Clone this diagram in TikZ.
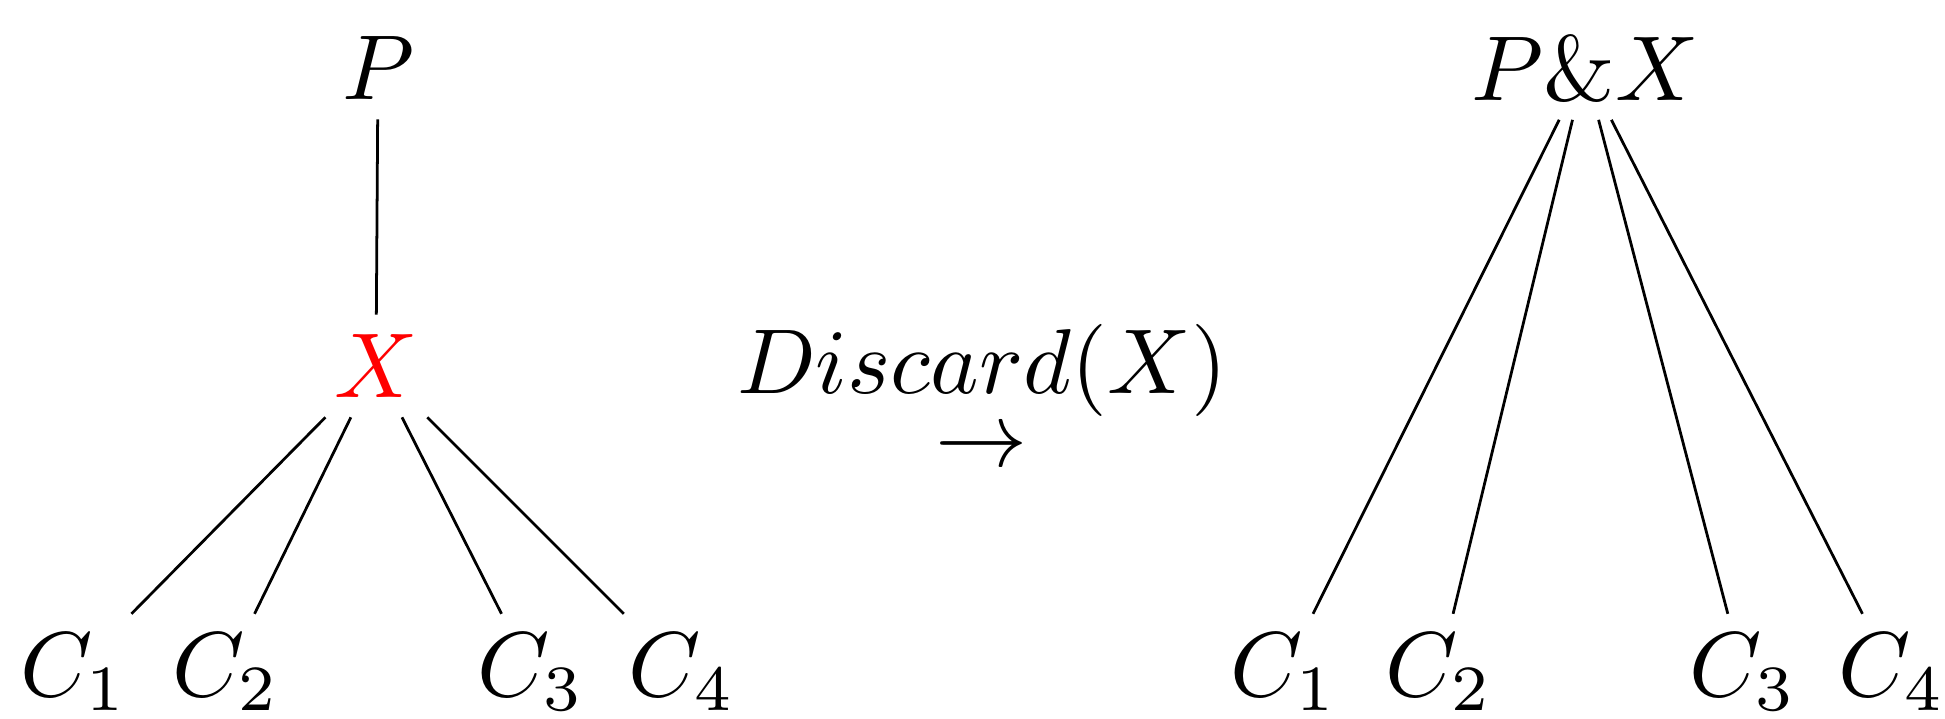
\documentclass[tikz,border=0pt]{standalone}
\usepackage{amsmath,amssymb}
\usepackage{xcolor}
\usetikzlibrary{positioning}

\begin{document}
\begin{tikzpicture}[x=0.003813cm,y=-0.003813cm,inner sep=2pt,line width=0.3pt]
  \useasboundingbox (0,0) rectangle (1945,718);
  % left tree: P over X over four children
  \node (P) at (378,68) {$P$};
  \node[red] (X) at (376,366) {$X$};
  \foreach \i/\xc in {1/74,2/226,3/531,4/682}
    \node (lc\i) at (\xc,672) {$C_\i$};
  \draw (P)--(X);
  \foreach \i in {1,...,4} \draw (X)--(lc\i);
  % the step between the two trees
  \node (disc) at (982,370) {$Discard(X)$};
  \node (arr) at (982,450) {$\rightarrow$};
  % right tree after X is dropped
  \node (PX) at (1585,68) {$P\&X$};
  \foreach \i/\xc in {1/1284,2/1439,3/1743,4/1892}
    \node (rc\i) at (\xc,672) {$C_\i$};
  \foreach \i in {1,...,4} \draw (PX)--(rc\i);
\end{tikzpicture}
\end{document}
